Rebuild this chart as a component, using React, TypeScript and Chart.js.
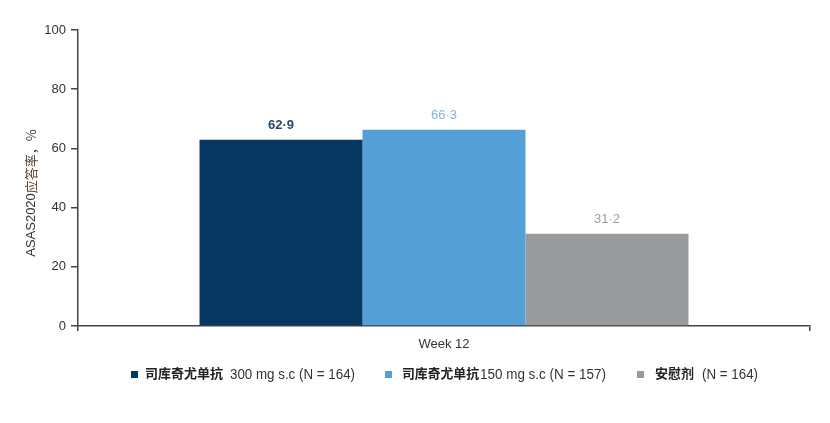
import React, { useEffect, useRef } from "react";
import { Chart, registerables } from "chart.js";

Chart.register(...registerables);

const categories = ["Week 12"];
const seriesNames = ["司库奇尤单抗 300 mg s.c (N = 164)", "司库奇尤单抗 150 mg s.c (N = 157)", "安慰剂 (N = 164)"];
const legendCn = ["司库奇尤单抗", "司库奇尤单抗", "安慰剂"];
const legendEn = ["300 mg s.c (N = 164)", "150 mg s.c (N = 157)", "(N = 164)"];
const series300 = [62.9];
const series150 = [66.3];
const seriesPlacebo = [31.2];
const valueLabels = ["62·9", "66·3", "31·2"];
const yTicks = [0, 20, 40, 60, 80, 100];

const barColors = ["#063762", "#559fd7", "#989b9e"];
const labelColors = ["#2b4766", "#7db4e2", "#9b9ea1"];

const FONT = "'Liberation Sans', Arial, sans-serif";
const CJK = "'Noto Sans CJK SC', 'Liberation Sans', sans-serif";

// legend layout (pixel positions of the legend pieces)
const legendBoxX = [131, 385, 637];
const legendCnX = [145, 402, 655];
const legendCnW = [78, 77, 39];
const legendEnX = [230, 480, 702];
const legendEnW = [125, 126, 56];

function fitText(ctx: CanvasRenderingContext2D, text: string, x: number, y: number, w: number) {
  const m = ctx.measureText(text).width;
  ctx.save();
  ctx.translate(x, y);
  ctx.scale(w / m, 1);
  ctx.fillText(text, 0, 0);
  ctx.restore();
}

const overlayPlugin = {
  id: "overlay",
  afterDatasetsDraw(chart: any) {
    const ctx = chart.ctx;
    ctx.save();
    // value labels
    chart.data.datasets.forEach((ds: any, i: number) => {
      const meta = chart.getDatasetMeta(i);
      meta.data.forEach((bar: any) => {
        ctx.font = `${i === 0 ? "bold " : ""}13px ${FONT}`;
        ctx.fillStyle = labelColors[i];
        ctx.textAlign = "center";
        ctx.textBaseline = "bottom";
        ctx.fillText(valueLabels[i], bar.x, bar.y - 8);
      });
    });
    // y-axis title
    ctx.save();
    ctx.translate(31, 193);
    ctx.rotate(-Math.PI / 2);
    ctx.textBaseline = "middle";
    ctx.textAlign = "left";
    const parts: [string, string, string][] = [
      ["ASAS2020", "#333333", `13px ${FONT}`],
      ["应答率", "#5c4128", `13px ${CJK}`],
      ["，%", "#333333", `13px ${CJK}`],
    ];
    let total = 0;
    parts.forEach(([t, , f]) => {
      ctx.font = f;
      total += ctx.measureText(t).width;
    });
    let x = -total / 2;
    parts.forEach(([t, c, f]) => {
      ctx.font = f;
      ctx.fillStyle = c;
      ctx.fillText(t, x, 0);
      x += ctx.measureText(t).width;
    });
    ctx.restore();
    // legend
    const ly = 374;
    for (let i = 0; i < 3; i++) {
      ctx.fillStyle = barColors[i];
      ctx.fillRect(legendBoxX[i], ly - 3, 7, 7);
      ctx.textBaseline = "middle";
      ctx.textAlign = "left";
      ctx.font = `bold 13px ${CJK}`;
      ctx.fillStyle = "#222222";
      fitText(ctx, legendCn[i], legendCnX[i], ly - 1, legendCnW[i]);
      ctx.font = `14px ${FONT}`;
      ctx.fillStyle = "#333333";
      fitText(ctx, legendEn[i], legendEnX[i], ly + 1, legendEnW[i]);
    }
    ctx.restore();
  },
};

export default function App() {
  const ref = useRef<HTMLCanvasElement | null>(null);
  useEffect(() => {
    document.body.style.margin = "0";
    const chart = new Chart(ref.current as HTMLCanvasElement, {
      type: "bar",
      data: {
        labels: categories,
        datasets: [
          { label: seriesNames[0], data: series300, backgroundColor: barColors[0] },
          { label: seriesNames[1], data: series150, backgroundColor: barColors[1] },
          { label: seriesNames[2], data: seriesPlacebo, backgroundColor: barColors[2] },
        ],
      },
      options: {
        responsive: false,
        animation: false,
        layout: { padding: { top: 30, right: 20, left: 0, bottom: 0 } },
        datasets: { bar: { categoryPercentage: 0.668, barPercentage: 1 } },
        plugins: { legend: { display: false }, tooltip: { enabled: false } },
        scales: {
          x: {
            grid: { drawOnChartArea: false, drawTicks: true, tickLength: 5, color: "#444", lineWidth: 1.5 },
            border: { color: "#444", width: 1.5 },
            ticks: { color: "#333", font: { size: 13, family: FONT }, padding: 6 },
            afterFit: (s: any) => { s.height = 97; },
          },
          y: {
            min: 0,
            max: 100,
            afterBuildTicks: (s: any) => { s.ticks = yTicks.map((v) => ({ value: v })); },
            grid: { drawOnChartArea: false, drawTicks: true, tickLength: 7, color: "#444", lineWidth: 1.5 },
            border: { color: "#444", width: 1.5 },
            ticks: { color: "#333", font: { size: 13, family: FONT }, padding: 5 },
            afterFit: (s: any) => { s.width = 78; },
          },
        },
      },
      plugins: [overlayPlugin],
    });
    return () => chart.destroy();
  }, []);
  return (
    <div style={{ width: 830, height: 423 }}>
      <canvas ref={ref} width={830} height={423} />
    </div>
  );
}
